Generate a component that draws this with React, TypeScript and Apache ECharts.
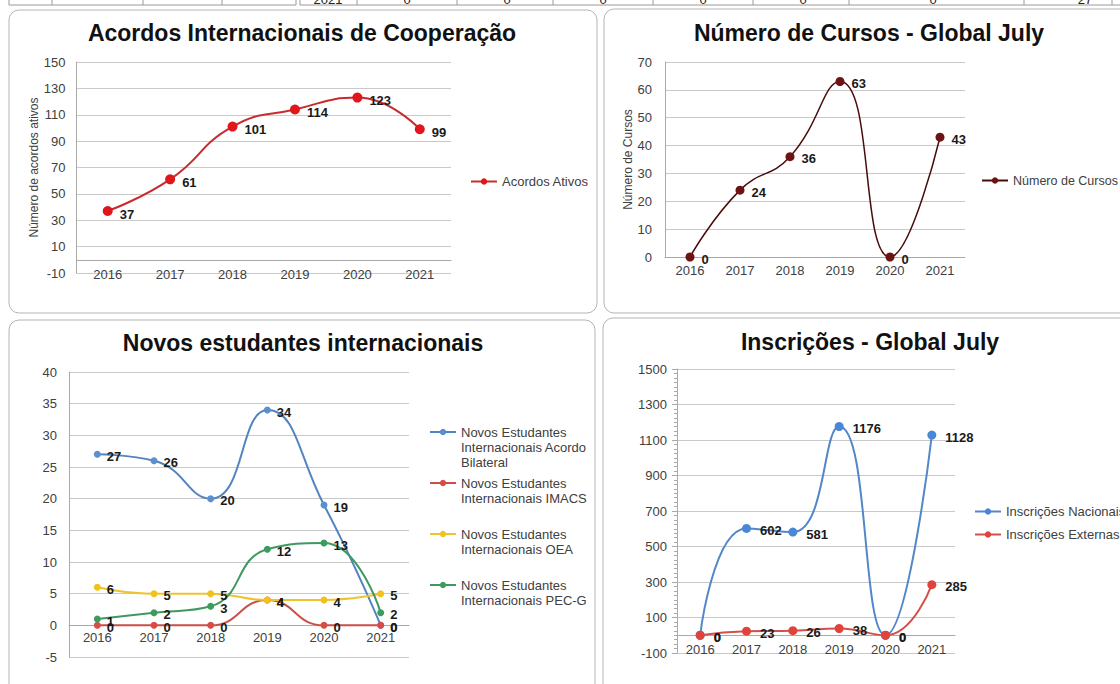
import React, { useEffect, useRef } from 'react';
import * as echarts from 'echarts';

const years = ['2016', '2017', '2018', '2019', '2020', '2021'];
const acordosAtivos = [37, 61, 101, 114, 123, 99];
const numeroCursos = [0, 24, 36, 63, 0, 43];
const estAcordoBilateral = [27, 26, 20, 34, 19, 0];
const estIMACS = [0, 0, 0, 4, 0, 0];
const estOEA = [6, 5, 5, 4, 4, 5];
const estPECG = [1, 2, 3, 12, 13, 2];
const inscNacionais = [0, 602, 581, 1176, 0, 1128];
const inscExternas = [0, 23, 26, 38, 0, 285];
const tableRowTexts = ['2021', '0', '0', '0', '0', '0', '0', '27'];

const titles = [
  'Acordos Internacionais de Cooperação',
  'Número de Cursos - Global July',
  'Novos estudantes internacionais',
  'Inscrições - Global July',
];

const nAcordos = 'Acordos Ativos';
const nCursos = 'Número de Cursos';
const nBil = 'Novos Estudantes\nInternacionais Acordo\nBilateral';
const nIMACS = 'Novos Estudantes\nInternacionais IMACS';
const nOEA = 'Novos Estudantes\nInternacionais OEA';
const nPEC = 'Novos Estudantes\nInternacionais PEC-G';
const nNac = 'Inscrições Nacionais';
const nExt = 'Inscrições Externas';

const FONT = "'Liberation Sans', Arial, sans-serif";
const LBL = '#404040';
const GRIDC = '#c9c9c9';

function xAxis(gridIndex: number, margin: number) {
  return {
    type: 'category',
    gridIndex,
    data: years,
    boundaryGap: true,
    axisLine: { onZero: true, lineStyle: { color: '#a9a9a9', width: 1 } },
    axisTick: { show: false },
    axisLabel: { color: LBL, fontSize: 13, fontFamily: FONT, margin },
    splitLine: { show: false },
  };
}

function yAxis(gridIndex: number, min: number, max: number, interval: number, extra: any = {}) {
  return {
    type: 'value',
    gridIndex,
    min,
    max,
    interval,
    axisLine: { show: true, lineStyle: { color: '#a9a9a9', width: 1 } },
    axisTick: { show: false },
    axisLabel: { color: LBL, fontSize: 13, fontFamily: FONT, margin: 11, formatter: (v: number) => String(v) },
    splitLine: { show: true, lineStyle: { color: GRIDC, width: 1 } },
    ...extra,
  };
}

function dataLabel(distance: number, dy: number) {
  return {
    show: true,
    position: 'right',
    distance,
    offset: [0, dy],
    color: '#1a1a1a',
    fontWeight: 'bold',
    fontSize: 13,
    fontFamily: FONT,
  };
}

function lineSeries(name: string, idx: number, data: number[], color: string, lineColor: string, size: number, width: number, dist: number, dy: number) {
  return {
    type: 'line',
    name,
    xAxisIndex: idx,
    yAxisIndex: idx,
    data,
    smooth: true,
    symbol: 'circle',
    symbolSize: size,
    lineStyle: { color: lineColor, width },
    itemStyle: { color },
    label: dataLabel(dist, dy),
    emphasis: { disabled: true },
    z: 3,
  };
}

function legend(names: string[], left: number, top: number, itemGap: number, lead = 0, fontSize = 13) {
  const prefix = '\n'.repeat(lead);
  return {
    data: names,
    left,
    top,
    orient: 'vertical',
    padding: 0,
    itemGap,
    itemWidth: 26,
    itemHeight: 8,
    selectedMode: false,
    formatter: (n: string) => prefix + n,
    textStyle: { color: LBL, fontSize, fontFamily: FONT, lineHeight: 15 },
  };
}

function title(text: string, cx: number, top: number) {
  return {
    text,
    left: cx,
    top,
    textAlign: 'center',
    padding: 0,
    textStyle: { fontSize: 23, fontWeight: 'bold', color: '#111', fontFamily: FONT },
  };
}

export default function App() {
  const ref = useRef<HTMLDivElement>(null);
  useEffect(() => {
    if (!ref.current) return;
    const chart = echarts.init(ref.current, undefined, { renderer: 'svg' });

    const tableXs = [328, 407, 507, 603, 703, 803, 933, 1085];
    const tableTextEls = tableRowTexts.map((t, i) => ({
      type: 'text',
      x: tableXs[i],
      y: -1,
      style: { text: t, fontSize: 13, fill: '#222', fontFamily: FONT, align: 'center', verticalAlign: 'middle' },
    }));
    const vLines = [9, 52, 143, 222, 296, 300, 357, 457, 553, 653, 753, 849, 1024, 1112].map((x) => ({
      type: 'line',
      shape: { x1: x, y1: 0, x2: x, y2: 5 },
      style: { stroke: '#9a9a9a', lineWidth: 1 },
    }));

    const panel = (x: number, y: number, w: number, h: number) => ({
      type: 'rect',
      shape: { x, y, width: w, height: h, r: 10 },
      style: { fill: 'none', stroke: '#b4b4b4', lineWidth: 1 },
      z: -1,
    });

    const option: any = {
      animation: false,
      backgroundColor: '#fff',
      title: [
        title(titles[0], 302, 21),
        title(titles[1], 869, 21),
        title(titles[2], 303, 331),
        title(titles[3], 870, 330),
      ],
      grid: [
        { left: 76.5, top: 62, width: 374.5, height: 211 },
        { left: 665, top: 62, width: 300, height: 195 },
        { left: 69, top: 372, width: 340, height: 285 },
        { left: 677, top: 369, width: 278, height: 284 },
      ],
      xAxis: [xAxis(0, -5), xAxis(1, 7), xAxis(2, -26), xAxis(3, -10)],
      yAxis: [
        yAxis(0, -10, 150, 20, {
          name: 'Número de acordos ativos',
          nameLocation: 'middle',
          nameRotate: 90,
          nameGap: 36,
          nameTextStyle: { color: LBL, fontSize: 12, fontFamily: FONT },
        }),
        yAxis(1, 0, 70, 10, {
          name: 'Número de Cursos',
          nameLocation: 'middle',
          nameRotate: 90,
          nameGap: 30,
          nameTextStyle: { color: LBL, fontSize: 12, fontFamily: FONT },
          axisLabel: { color: LBL, fontSize: 13, fontFamily: FONT, margin: 13 },
        }),
        yAxis(2, -5, 40, 5, { axisLabel: { color: LBL, fontSize: 13, fontFamily: FONT, margin: 12 } }),
        yAxis(3, -100, 1500, 200, {
          axisTick: { show: true, length: 5, lineStyle: { color: '#a9a9a9' } },
          minorTick: { show: true, splitNumber: 8, length: 3, lineStyle: { color: '#a9a9a9' } },
          axisLabel: { color: LBL, fontSize: 13, fontFamily: FONT, margin: 10, formatter: (v: number) => String(v) },
        }),
      ],
      legend: [
        legend([nAcordos], 470, 174, 8),
        legend([nCursos], 981, 173, 8, 0, 12.5),
        legend([nBil], 429, 432 - 37.5, 8, 2),
        legend([nIMACS], 429, 483 - 22.5, 8, 1),
        legend([nOEA], 429, 534 - 22.5, 8, 1),
        legend([nPEC], 429, 585 - 22.5, 8, 1),
        legend([nNac, nExt], 974, 504, 8),
      ],
      series: [
        lineSeries(nAcordos, 0, acordosAtivos, '#e0161d', '#c92a2e', 10, 2, 7, 3),
        lineSeries(nCursos, 1, numeroCursos, '#6e1313', '#4a0b0b', 9, 1.5, 7, 2),
        lineSeries(nBil, 2, estAcordoBilateral, '#5b8fcf', '#5284c0', 7, 2, 6, 2),
        lineSeries(nIMACS, 2, estIMACS, '#d94b45', '#cc4e49', 7, 2, 6, 2),
        lineSeries(nOEA, 2, estOEA, '#f2c21b', '#eec42e', 7, 2, 6, 2),
        lineSeries(nPEC, 2, estPECG, '#3a9d5d', '#3f9860', 7, 2, 6, 2),
        lineSeries(nNac, 3, inscNacionais, '#4a88d6', '#5287c8', 9, 2, 9, 2),
        lineSeries(nExt, 3, inscExternas, '#e0433b', '#d2504a', 9, 2, 9, 2),
      ],
      graphic: [
        panel(9, 10, 588, 303),
        panel(604, 9, 540, 304),
        panel(9, 320, 586, 400),
        panel(603, 318, 540, 400),
        { type: 'line', shape: { x1: 9, y1: 5, x2: 296, y2: 5 }, style: { stroke: '#9a9a9a', lineWidth: 1 } },
        { type: 'line', shape: { x1: 300, y1: 5, x2: 1120, y2: 5 }, style: { stroke: '#9a9a9a', lineWidth: 1 } },
        ...vLines,
        ...tableTextEls,
      ],
    };
    chart.setOption(option);
    return () => chart.dispose();
  }, []);
  return <div ref={ref} style={{ position: 'absolute', left: 0, top: 0, width: 1120, height: 684 }} />;
}
